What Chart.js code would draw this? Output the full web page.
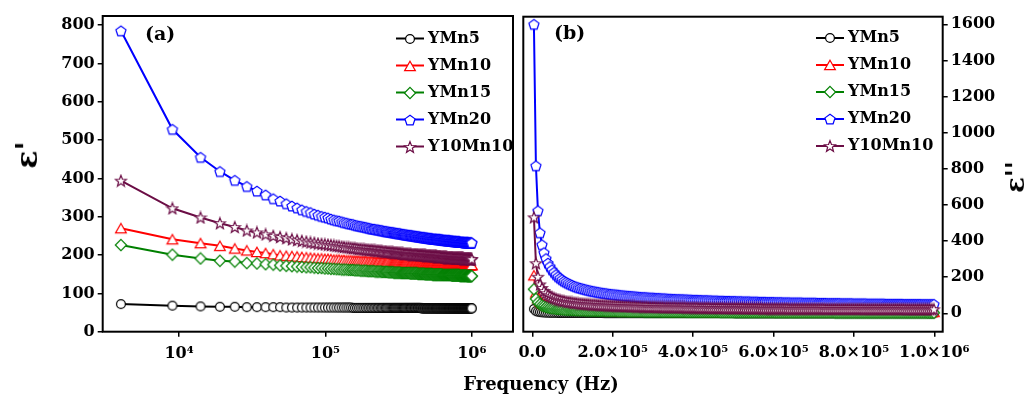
<!DOCTYPE html>
<html>
<head>
<meta charset="utf-8">
<script src="https://cdn.jsdelivr.net/npm/chart.js@4.4.1/dist/chart.umd.min.js"></script>
<style>
  body { margin: 0; background: #fff; width: 1030px; height: 394px; overflow: hidden; position: relative; font-family: "DejaVu Serif", serif; }
  #wa { position: absolute; left: 0; top: 0; width: 520px; height: 394px; }
  #wb { position: absolute; left: 500px; top: 0; width: 530px; height: 394px; }
  .t { position: absolute; font-weight: bold; white-space: nowrap; line-height: 1; color: #000; }
  #xt { left: 541px; top: 375px; font-size: 18px; transform: translateX(-50%); }
  #yl { left: 27px; top: 155px; font-size: 30px; transform: translate(-50%, -50%) rotate(-90deg); }
  #yr { left: 1015px; top: 177px; font-size: 26px; transform: translate(-50%, -50%) rotate(-90deg); }
</style>
</head>
<body>
<div id="wa"><canvas id="ca"></canvas></div>
<div id="wb"><canvas id="cb"></canvas></div>
<div class="t" id="xt">Frequency (Hz)</div>
<div class="t" id="yl">ε'</div>
<div class="t" id="yr">ε''</div>
<script>
// measurement frequencies (Hz)
const freq = [
  4000,9000,14000,19000,24000,29000,34000,39000,44000,49000,
  54000,59000,64000,69000,74000,79000,84000,89000,94000,99000,
  104000,109000,114000,119000,124000,129000,134000,139000,144000,149000,
  154000,159000,164000,169000,174000,179000,184000,189000,194000,199000,
  204000,209000,214000,219000,224000,229000,234000,239000,244000,249000,
  254000,259000,264000,269000,274000,279000,284000,289000,294000,299000,
  304000,309000,314000,319000,324000,329000,334000,339000,344000,349000,
  354000,359000,364000,369000,374000,379000,384000,389000,394000,399000,
  404000,409000,414000,419000,424000,429000,434000,439000,444000,449000,
  454000,459000,464000,469000,474000,479000,484000,489000,494000,499000,
  504000,509000,514000,519000,524000,529000,534000,539000,544000,549000,
  554000,559000,564000,569000,574000,579000,584000,589000,594000,599000,
  604000,609000,614000,619000,624000,629000,634000,639000,644000,649000,
  654000,659000,664000,669000,674000,679000,684000,689000,694000,699000,
  704000,709000,714000,719000,724000,729000,734000,739000,744000,749000,
  754000,759000,764000,769000,774000,779000,784000,789000,794000,799000,
  804000,809000,814000,819000,824000,829000,834000,839000,844000,849000,
  854000,859000,864000,869000,874000,879000,884000,889000,894000,899000,
  904000,909000,914000,919000,924000,929000,934000,939000,944000,949000,
  954000,959000,964000,969000,974000,979000,984000,989000,994000,999000
];

// (a) real part ε'
const realYMn5 = [
  72,68,66,65,65,64,64,64,64,64,
  63,63,63,63,63,63,63,63,63,63,
  63,63,63,63,63,63,63,63,63,63,
  62,62,62,62,62,62,62,62,62,62,
  62,62,62,62,62,62,62,62,62,62,
  62,62,62,62,62,62,62,62,62,62,
  62,62,62,62,62,62,62,62,62,62,
  62,62,62,62,62,62,62,62,62,62,
  62,62,62,62,62,62,62,62,62,62,
  61,61,61,61,61,61,61,61,61,61,
  61,61,61,61,61,61,61,61,61,61,
  61,61,61,61,61,61,61,61,61,61,
  61,61,61,61,61,61,61,61,61,61,
  61,61,61,61,61,61,61,61,61,61,
  61,61,61,61,61,61,61,61,61,61,
  61,61,61,61,61,61,61,61,61,61,
  61,61,61,61,61,61,61,61,61,61,
  61,61,61,61,61,61,61,61,61,61,
  61,61,61,61,61,61,61,61,61,61,
  61,61,61,61,61,61,61,61,61,61
];
const realYMn10 = [
  270,241,231,224,217,212,208,205,202,199,
  198,197,196,195,194,193,192,191,191,190,
  190,189,188,188,188,187,187,186,186,186,
  185,185,185,185,184,184,184,184,183,183,
  183,183,182,182,182,182,182,181,181,181,
  181,181,181,181,180,180,180,180,180,180,
  180,180,180,180,179,179,179,179,179,179,
  179,179,179,179,179,178,178,178,178,178,
  178,178,178,178,178,178,178,178,178,178,
  178,178,178,177,177,177,177,177,177,177,
  177,177,177,177,177,177,177,177,177,177,
  176,176,176,176,176,176,176,176,176,176,
  176,176,176,176,176,176,176,176,176,176,
  176,176,175,175,175,175,175,175,175,175,
  175,175,175,175,175,175,175,175,175,175,
  175,175,175,175,175,175,175,175,175,175,
  175,175,175,175,175,175,175,175,175,175,
  175,175,175,175,175,174,174,174,174,174,
  174,174,174,174,174,174,174,174,174,174,
  174,174,174,174,174,174,174,174,174,174
];
const realYMn15 = [
  226,201,191,185,183,179,178,176,175,173,
  172,171,170,169,168,168,167,166,166,165,
  165,164,164,163,163,162,162,162,161,161,
  161,160,160,160,159,159,159,159,158,158,
  158,158,158,157,157,157,157,157,156,156,
  156,156,156,155,155,155,155,155,154,154,
  154,154,154,154,154,153,153,153,153,153,
  153,153,153,153,153,152,152,152,152,152,
  152,152,152,152,152,151,151,151,151,151,
  151,151,151,151,151,150,150,150,150,150,
  150,150,150,150,150,150,150,149,149,149,
  149,149,149,149,149,149,149,149,149,149,
  149,149,149,149,149,148,148,148,148,148,
  148,148,148,148,148,148,148,148,148,148,
  148,148,148,148,148,147,147,147,147,147,
  147,147,147,147,147,147,147,147,147,147,
  147,147,147,147,147,146,146,146,146,146,
  146,146,146,146,146,146,146,146,146,146,
  146,146,146,146,146,145,145,145,145,145,
  145,145,145,145,145,145,145,145,145,145
];
const realYMn20 = [
  785,528,455,418,395,379,367,357,347,341,
  334,328,323,318,314,311,307,304,301,299,
  297,294,292,290,289,287,285,284,282,281,
  280,278,277,276,275,274,273,272,271,270,
  269,268,268,267,266,266,265,264,264,263,
  262,262,261,261,260,260,259,259,258,258,
  257,257,256,256,256,255,255,254,254,253,
  253,253,252,252,252,251,251,251,250,250,
  250,249,249,249,248,248,248,248,247,247,
  247,246,246,246,246,245,245,245,245,244,
  244,244,244,243,243,243,243,242,242,242,
  242,242,242,242,241,241,241,241,241,241,
  241,240,240,240,240,240,239,239,239,239,
  239,239,239,238,238,238,238,238,238,238,
  238,237,237,237,237,237,237,237,236,236,
  236,236,236,236,236,236,235,235,235,235,
  235,235,235,235,235,234,234,234,234,234,
  234,234,234,234,234,234,233,233,233,233,
  233,233,233,233,233,233,233,233,233,232,
  232,232,232,232,232,232,232,232,232,232
];
const realY10Mn10 = [
  394,322,298,283,273,264,259,254,250,247,
  244,241,239,237,235,233,232,230,229,228,
  227,226,225,224,223,222,221,220,220,219,
  218,218,217,216,216,215,215,214,214,213,
  213,213,212,212,211,211,211,210,210,209,
  209,209,208,208,208,207,207,207,206,206,
  206,206,205,205,205,204,204,204,203,203,
  203,203,203,202,202,202,202,201,201,201,
  201,201,201,201,201,200,200,200,200,200,
  200,200,199,199,199,199,199,198,198,198,
  198,198,198,198,198,197,197,197,197,197,
  197,197,197,197,197,196,196,196,196,196,
  196,196,195,195,195,195,195,195,194,194,
  194,194,194,194,194,193,193,193,193,193,
  193,193,193,193,193,193,193,193,192,192,
  192,192,192,192,192,192,192,192,192,192,
  192,192,192,191,191,191,191,191,191,191,
  191,191,191,191,191,190,190,190,190,190,
  190,190,190,190,190,190,190,190,190,190,
  190,190,189,189,189,189,189,189,189,189
];

// (b) imaginary part ε''
const imagYMn5 = [
  24,12,9,7,6,5,4,4,3,3,
  3,3,2,2,2,2,2,2,2,2,
  2,2,2,2,2,2,2,2,2,2,
  2,2,2,2,2,1,1,1,1,1,
  1,1,1,1,1,1,1,1,1,1,
  1,1,1,1,1,1,1,1,1,1,
  1,1,1,1,1,1,1,1,1,1,
  1,1,1,1,1,1,1,1,1,1,
  1,1,1,1,1,1,1,1,1,1,
  1,1,1,1,1,1,1,1,1,1,
  0,0,0,0,0,0,0,0,0,0,
  0,0,0,0,0,0,0,0,0,0,
  0,0,0,0,0,0,0,0,0,0,
  0,0,0,0,0,0,0,0,0,0,
  0,0,0,0,0,0,0,0,0,0,
  0,0,0,0,0,0,0,0,0,0,
  0,0,0,0,0,0,0,0,0,0,
  0,0,0,0,0,0,0,0,0,0,
  0,0,0,0,0,0,0,0,0,0,
  0,0,0,0,0,0,0,0,0,0
];
const imagYMn10 = [
  210,114,83,67,57,51,46,42,39,36,
  34,33,31,30,29,27,26,26,25,24,
  23,23,22,22,21,21,20,20,20,19,
  19,19,18,18,18,17,17,17,17,17,
  16,16,16,16,15,15,15,15,15,15,
  15,15,14,14,14,14,14,14,13,13,
  13,13,13,13,13,12,12,12,12,12,
  12,12,12,12,12,12,12,12,12,12,
  12,12,12,11,11,11,11,11,11,11,
  11,11,11,11,11,11,11,11,11,11,
  11,11,11,11,10,10,10,10,10,10,
  10,10,10,10,10,10,10,10,10,10,
  10,10,10,10,10,9,9,9,9,9,
  9,9,9,9,9,9,9,9,9,9,
  9,9,9,9,9,9,9,9,9,9,
  9,9,9,9,9,9,9,9,9,9,
  9,9,9,9,9,9,9,9,9,9,
  8,8,8,8,8,8,8,8,8,8,
  8,8,8,8,8,8,8,8,8,8,
  8,8,8,8,8,8,8,8,8,8
];
const imagYMn15 = [
  133,80,60,50,43,39,35,32,30,28,
  27,25,24,23,22,21,20,20,19,18,
  18,17,17,16,16,16,15,15,14,14,
  14,14,13,13,13,13,12,12,12,12,
  12,12,11,11,11,11,11,10,10,10,
  10,10,10,10,10,9,9,9,9,9,
  9,9,9,9,8,8,8,8,8,8,
  8,8,8,8,8,8,7,7,7,7,
  7,7,7,7,7,7,7,7,7,7,
  7,7,7,6,6,6,6,6,6,6,
  6,6,6,6,6,6,6,6,6,6,
  6,6,6,6,6,6,6,6,6,6,
  5,5,5,5,5,5,5,5,5,5,
  5,5,5,5,5,5,5,5,5,5,
  5,5,5,5,5,5,5,5,5,5,
  4,4,4,4,4,4,4,4,4,4,
  4,4,4,4,4,4,4,4,4,4,
  4,4,4,4,4,4,4,4,4,4,
  4,4,4,4,4,4,4,4,4,4,
  4,4,4,4,4,4,3,3,3,3
];
const imagYMn20 = [
  1600,817,568,446,380,336,303,278,259,241,
  227,214,203,194,186,178,172,166,161,156,
  151,147,143,140,137,134,131,128,126,123,
  121,119,117,115,113,111,110,108,107,105,
  104,103,102,100,99,98,97,96,95,94,
  93,92,91,90,89,89,88,87,86,86,
  85,84,84,83,82,82,81,80,80,79,
  79,78,78,77,77,76,76,75,75,74,
  74,74,73,73,72,72,72,71,71,70,
  70,70,69,69,69,68,68,68,67,67,
  67,66,66,66,65,65,65,65,64,64,
  64,64,63,63,63,63,62,62,62,62,
  61,61,61,61,60,60,60,60,59,59,
  59,59,59,59,58,58,58,58,58,58,
  58,57,57,57,57,57,56,56,56,56,
  56,56,56,55,55,55,55,55,55,54,
  54,54,54,54,54,54,53,53,53,53,
  53,53,53,53,53,52,52,52,52,52,
  52,52,52,52,51,51,51,51,51,51,
  51,51,51,50,50,50,50,50,50,50
];
const imagY10Mn10 = [
  531,277,202,160,140,123,111,102,95,89,
  84,80,76,73,70,68,65,63,62,60,
  58,57,55,54,53,52,51,50,49,48,
  48,47,46,45,45,44,44,43,43,42,
  42,41,41,40,40,39,39,39,38,38,
  38,37,37,37,36,36,36,35,35,35,
  35,34,34,34,34,33,33,33,33,33,
  33,32,32,32,32,32,31,31,31,31,
  31,31,30,30,30,30,30,30,29,29,
  29,29,29,29,29,28,28,28,28,28,
  28,28,28,28,28,27,27,27,27,27,
  27,27,27,27,26,26,26,26,26,26,
  26,26,26,26,26,26,26,25,25,25,
  25,25,25,25,25,25,25,25,25,25,
  25,25,25,25,25,24,24,24,24,24,
  24,24,24,24,24,24,24,24,24,24,
  24,24,24,24,23,23,23,23,23,23,
  23,23,23,23,23,23,23,23,23,23,
  23,23,23,23,23,22,22,22,22,22,
  22,22,22,22,22,22,22,22,22,22
];

const seriesNames = ['YMn5', 'YMn10', 'YMn15', 'YMn20', 'Y10Mn10'];
const realSeries = [realYMn5, realYMn10, realYMn15, realYMn20, realY10Mn10];
const imagSeries = [imagYMn5, imagYMn10, imagYMn15, imagYMn20, imagY10Mn10];

const ticksRealY = [0, 100, 200, 300, 400, 500, 600, 700, 800];
const ticksImagY = [0, 200, 400, 600, 800, 1000, 1200, 1400, 1600];
const ticksLogX = [1e4, 1e5, 1e6];
const labelsLogX = ['10⁴', '10⁵', '10⁶'];
const ticksLinX = [0, 2e5, 4e5, 6e5, 8e5, 1e6];
const labelsLinX = ['0.0', '2.0×10⁵', '4.0×10⁵', '6.0×10⁵', '8.0×10⁵', '1.0×10⁶'];

const colors = ['#000000', '#ff0000', '#008000', '#0000ff', '#6b0d45'];
const shapes = ['circle', 'triangle', 'diamond', 'pentagon', 'star'];

// hollow markers drawn once into small canvases
function marker(shape, color) {
  const c = document.createElement('canvas');
  c.width = 14; c.height = 14;
  const g = c.getContext('2d');
  g.translate(7, 7);
  g.beginPath();
  if (shape === 'circle') {
    g.arc(0, 0, 4.4, 0, Math.PI * 2);
  } else {
    let n, R, r = null, dy = 0;
    if (shape === 'triangle') { n = 3; R = 6.2; dy = 1.5; }
    if (shape === 'diamond') { n = 4; R = 5.6; }
    if (shape === 'pentagon') { n = 5; R = 5.3; dy = 0.5; }
    if (shape === 'star') { n = 5; R = 5.9; r = 2.5; dy = 0.5; }
    const m = r ? n * 2 : n;
    for (let i = 0; i < m; i++) {
      const a = -Math.PI / 2 + i * 2 * Math.PI / m;
      const rad = (r && i % 2) ? r : R;
      const px = rad * Math.cos(a), py = rad * Math.sin(a) + dy;
      i ? g.lineTo(px, py) : g.moveTo(px, py);
    }
    g.closePath();
  }
  g.fillStyle = '#fff';
  g.fill();
  g.lineWidth = 1.2;
  g.strokeStyle = color;
  g.stroke();
  return c;
}
const markers = shapes.map((s, i) => marker(s, colors[i]));

const sketch = {
  id: 'sketch',
  afterDraw(chart, args, o) {
    const ctx = chart.ctx, a = chart.chartArea;
    ctx.save();
    ctx.strokeStyle = '#000';
    ctx.lineWidth = 2;
    ctx.strokeRect(a.left, a.top, a.right - a.left, a.bottom - a.top);
    ctx.textBaseline = 'middle';
    ctx.fillStyle = '#000';
    ctx.font = 'bold 16px "DejaVu Serif"';
    chart.data.datasets.forEach((ds, i) => {
      const y = o.y + i * o.step;
      ctx.strokeStyle = ds.borderColor;
      ctx.lineWidth = 2;
      ctx.beginPath();
      ctx.moveTo(o.x, y);
      ctx.lineTo(o.x + 28, y);
      ctx.stroke();
      ctx.drawImage(ds.pointStyle, o.x + 14 - 7, Math.round(y) - 7);
      ctx.fillText(ds.label, o.x + 32, y);
    });
    ctx.font = 'bold 19px "DejaVu Serif"';
    ctx.fillText(o.tag, o.tagX, o.tagY);
    ctx.restore();
  }
};

function datasets(series) {
  return seriesNames.map((name, i) => ({
    label: name,
    data: freq.map((f, j) => ({ x: f, y: series[i][j] })),
    borderColor: colors[i],
    borderWidth: 2,
    pointStyle: markers[i],
    pointRadius: 5,
    tension: 0,
    order: seriesNames.length - 1 - i
  }));
}

const tickFont = { family: 'DejaVu Serif', weight: 'bold', size: 16 };
const grid = { drawOnChartArea: false, tickLength: 5, color: '#000', lineWidth: 1.5 };
// fixed axis sizes so that both plot frames sit where the figure has them
const fitX = s => { s.height = 62.3; };

Chart.defaults.color = '#000';

new Chart(document.getElementById('ca'), {
  type: 'line',
  data: { datasets: datasets(realSeries) },
  options: {
    responsive: true, maintainAspectRatio: false, animation: false, devicePixelRatio: 1,
    layout: { padding: { top: 16, right: 2.3, left: 0, bottom: 0 } },
    plugins: {
      legend: { display: false }, tooltip: { enabled: false },
      sketch: { x: 396, y: 38.5, step: 27, tag: '(a)', tagX: 145, tagY: 35 }
    },
    scales: {
      x: {
        type: 'logarithmic', min: 3004, max: 1.913e6,
        afterBuildTicks: s => { s.ticks = ticksLogX.map(v => ({ value: v })); },
        afterFit: fitX,
        ticks: { font: tickFont, padding: 8, autoSkip: false, maxRotation: 0, callback: (v, i) => labelsLogX[i] },
        grid: grid, border: { display: false }
      },
      y: {
        min: 0, max: 823.5,
        afterBuildTicks: s => { s.ticks = ticksRealY.map(v => ({ value: v })); },
        afterFit: s => { s.width = 102.7; },
        ticks: { font: tickFont, padding: 3, callback: v => String(v) },
        grid: grid, border: { display: false }
      }
    }
  },
  plugins: [sketch]
});

// second panel: its canvas starts 20px left of the join, so the frame sits at 523.3
new Chart(document.getElementById('cb'), {
  type: 'line',
  data: { datasets: datasets(imagSeries) },
  options: {
    responsive: true, maintainAspectRatio: false, animation: false, devicePixelRatio: 1,
    layout: { padding: { top: 16.7, right: 0, left: 23.3, bottom: 0 } },
    plugins: {
      legend: { display: false }, tooltip: { enabled: false },
      sketch: { x: 316, y: 38, step: 27, tag: '(b)', tagX: 54, tagY: 34 }
    },
    scales: {
      x: {
        type: 'linear', min: -22400, max: 1020900,
        afterBuildTicks: s => { s.ticks = ticksLinX.map(v => ({ value: v })); },
        afterFit: fitX,
        ticks: { font: tickFont, padding: 7, autoSkip: false, maxRotation: 0, callback: (v, i) => labelsLinX[i] },
        grid: grid, border: { display: false }
      },
      y: {
        position: 'right', min: -102, max: 1642,
        afterBuildTicks: s => { s.ticks = ticksImagY.map(v => ({ value: v })); },
        afterFit: s => { s.width = 87.3; },
        ticks: { font: tickFont, padding: 3, callback: v => String(v) },
        grid: grid, border: { display: false }
      }
    }
  },
  plugins: [sketch]
});
</script>
</body>
</html>
